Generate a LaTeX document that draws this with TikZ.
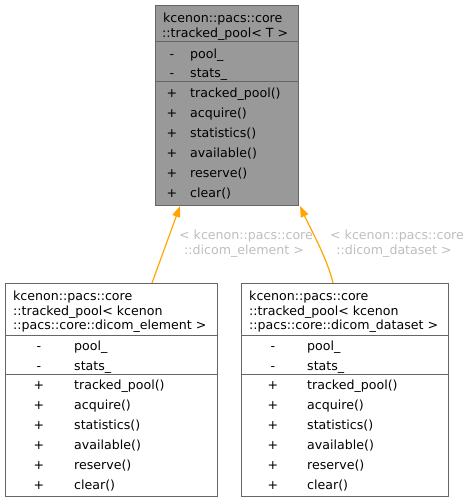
\documentclass[tikz,border=0pt]{standalone}
\usepackage{fontspec}
\setmainfont{DejaVu Sans}
\usetikzlibrary{arrows.meta}
\definecolor{boxgray}{HTML}{999999}
\definecolor{edgegray}{HTML}{666666}
\definecolor{lblgray}{HTML}{BEBEBE}
\definecolor{inhorange}{HTML}{FFA500}
\begin{document}
\begin{tikzpicture}[x=1bp,y=-1bp, font=\fontsize{12.6bp}{15bp}\selectfont,
 box/.style={draw=edgegray, line width=1bp, rectangle, inner sep=0pt, anchor=north west},
 txt/.style={inner sep=0pt, anchor=mid west, yshift=-2.5bp},
 sym/.style={inner sep=0pt, anchor=mid, yshift=-2.5bp},
 lbl/.style={inner sep=0pt, anchor=mid, text=lblgray, yshift=-2bp},
 sep/.style={draw=edgegray, line width=1bp},
 inh/.style={draw=inhorange, line width=1.2bp, -{Triangle[length=11bp,width=8bp,fill=inhorange]}}]
\useasboundingbox (0,0) rectangle (471,503);

% top box
\node[box, fill=boxgray, minimum width=143bp, minimum height=200bp] (top) at (155,5) {};
\draw[sep] (top.west |- 0,42) -- (top.east |- 0,42);
\draw[sep] (top.west |- 0,82) -- (top.east |- 0,82);
\node[txt] (tt1) at (163,17) {kcenon::pacs::core};
\node[txt] (tt2) at (162,32) {::tracked\_pool< T >};
\node[sym] (ta1) at (172,53) {-};
\node[txt] (tb1) at (190,53) {pool\_};
\node[sym] (ta2) at (172,72) {-};
\node[txt] (tb2) at (190,72) {stats\_};
\foreach \t [count=\i] in {tracked\_pool(),acquire(),statistics(),available(),reserve(),clear()}{
  \node[sym] (tp\i) at (172,72+20*\i) {+};
  \node[txt] (tm\i) at (190,72+20*\i) {\t};
}

% left box
\node[box, fill=white, minimum width=212bp, minimum height=213bp] (lb) at (5,283) {};
\draw[sep] (lb.west |- 0,335) -- (lb.east |- 0,335);
\draw[sep] (lb.west |- 0,374) -- (lb.east |- 0,374);
\node[txt] (lt1) at (13,295) {kcenon::pacs::core};
\node[txt] (lt2) at (13,310) {::tracked\_pool< kcenon};
\node[txt] (lt3) at (13,324) {::pacs::core::dicom\_element >};
\node[sym] (la1) at (39,345) {-};
\node[txt] (lbb1) at (74,345) {pool\_};
\node[sym] (la2) at (39,365) {-};
\node[txt] (lbb2) at (74,365) {stats\_};
\foreach \t [count=\i] in {tracked\_pool(),acquire(),statistics(),available(),reserve(),clear()}{
  \node[sym] (lp\i) at (39,364+20*\i) {+};
  \node[txt] (lm\i) at (74,364+20*\i) {\t};
}

% right box
\node[box, fill=white, minimum width=207bp, minimum height=213bp] (rb) at (241,283) {};
\draw[sep] (rb.west |- 0,335) -- (rb.east |- 0,335);
\draw[sep] (rb.west |- 0,374) -- (rb.east |- 0,374);
\node[txt] (rt1) at (249,295) {kcenon::pacs::core};
\node[txt] (rt2) at (249,310) {::tracked\_pool< kcenon};
\node[txt] (rt3) at (249,324) {::pacs::core::dicom\_dataset >};
\node[sym] (ra1) at (273,345) {-};
\node[txt] (rbb1) at (307,345) {pool\_};
\node[sym] (ra2) at (273,365) {-};
\node[txt] (rbb2) at (307,365) {stats\_};
\foreach \t [count=\i] in {tracked\_pool(),acquire(),statistics(),available(),reserve(),clear()}{
  \node[sym] (rp\i) at (273,364+20*\i) {+};
  \node[txt] (rm\i) at (307,364+20*\i) {\t};
}

% inheritance arrows
\draw[inh] (lb.north -| 152,0) -- (top.south -| 180,0);
\draw[inh] (rb.north -| 333,0) .. controls (327,258) and (312,232) .. (top.south -| 300,0);

% labels
\node[lbl] (ll1) at (246,235) {< kcenon::pacs::core};
\node[lbl] (ll2) at (244,250) {::dicom\_element >};
\node[lbl] (rl1) at (397,235) {< kcenon::pacs::core};
\node[lbl] (rl2) at (394,250) {::dicom\_dataset >};
\end{tikzpicture}
\end{document}
